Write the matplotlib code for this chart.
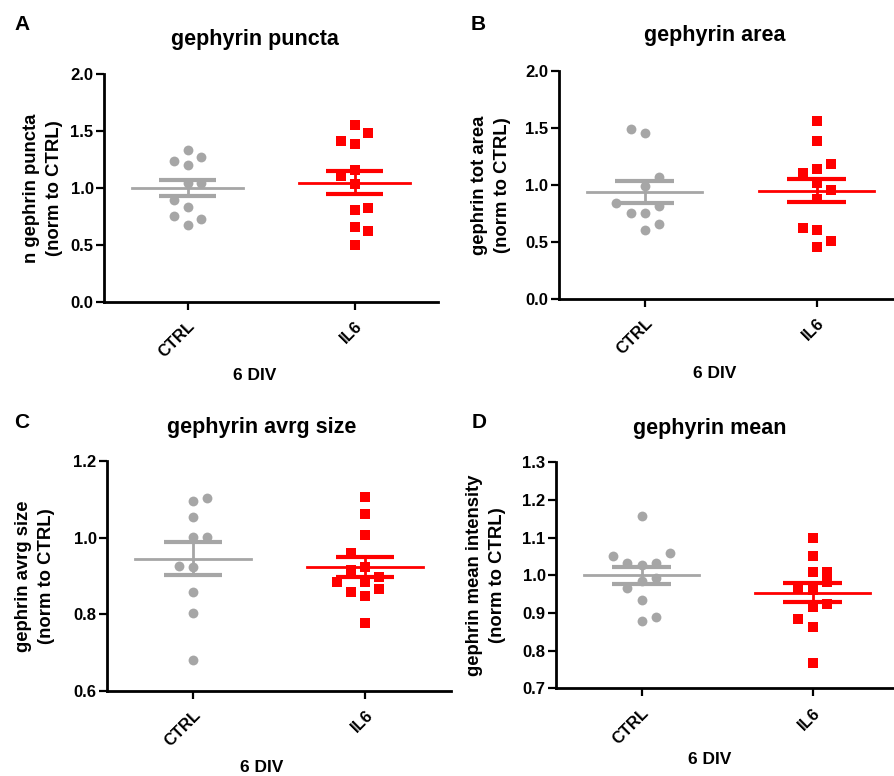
import matplotlib
matplotlib.use('Agg')
import matplotlib.pyplot as plt
import numpy as np

plt.rcParams['font.family'] = ['Liberation Sans', 'DejaVu Sans']
plt.rcParams['font.weight'] = 'bold'

# === Values ===
groups = ['CTRL', 'IL6']

# A - gephyrin puncta
a_ctrl = [1.33, 1.24, 1.27, 1.20, 1.045, 1.045, 0.89, 0.83, 0.75, 0.73, 0.67]
a_ctrl_slot = [0, -1, 1, 0, 0, 1, -1, 0, -1, 1, 0]
a_il6 = [1.55, 1.48, 1.41, 1.385, 1.157, 1.107, 1.034, 0.805, 0.82, 0.66, 0.624, 0.50]
a_il6_slot = [0, 1, -1, 0, 0, -1, 0, 0, 1, 0, 1, 0]
a_mean = [1.00, 1.045]
a_sem = [0.073, 0.103]

# B - gephyrin area
b_ctrl = [1.49, 1.45, 1.066, 0.99, 0.844, 0.815, 0.75, 0.75, 0.654, 0.604]
b_ctrl_slot = [-1, 0, 1, 0, -2, 1, -1, 0, 1, 0]
b_il6 = [1.56, 1.384, 1.182, 1.136, 1.107, 1.013, 0.955, 0.873, 0.625, 0.604, 0.508, 0.458]
b_il6_slot = [0, 0, 1, 0, -1, 0, 1, 0, -1, 0, 1, 0]
b_mean = [0.94, 0.949]
b_sem = [0.095, 0.099]

# C - gephyrin avrg size
c_ctrl = [1.096, 1.104, 1.053, 1.003, 1.003, 0.927, 0.924, 0.859, 0.804, 0.681]
c_ctrl_slot = [0, 1, 0, 0, 1, -1, 0, 0, 0, 0]
c_il6 = [1.107, 1.062, 1.007, 0.961, 0.924, 0.916, 0.898, 0.885, 0.885, 0.865, 0.859, 0.849, 0.777]
c_il6_slot = [0, 0, 0, -1, 0, -1, 1, -2, 0, 1, -1, 0, 0]
c_mean = [0.945, 0.923]
c_sem = [0.043, 0.026]

# D - gephyrin mean
d_ctrl = [1.158, 1.058, 1.051, 1.032, 1.032, 1.027, 0.994, 0.985, 0.965, 0.935, 0.889, 0.879]
d_ctrl_slot = [0, 2, -2, -1, 1, 0, 1, 0, -1, 0, 1, 0]
d_il6 = [1.100, 1.052, 1.010, 1.010, 0.983, 0.965, 0.961, 0.925, 0.917, 0.884, 0.862, 0.766]
d_il6_slot = [0, 0, 0, 1, 1, -1, 0, 1, 0, -1, 0, 0]
d_mean = [1.000, 0.954]
d_sem = [0.022, 0.0255]

gray = '#a6a6a6'
red = '#ff0000'
W, H = 894, 776

fig = plt.figure(figsize=(W / 100, H / 100), dpi=100)


def panel(rect, ctrl, ctrl_slot, il6, il6_slot, mean, sem, ylim, yticks, ylabel, ylabel_x):
    l, t, r, b = rect
    ax = fig.add_axes([l / W, 1 - b / H, (r - l) / W, (b - t) / H])
    ax.set_xlim(-0.5, 1.5)
    ax.set_ylim(*ylim)
    step = 0.082
    ax.scatter(np.array(ctrl_slot) * step, ctrl, s=50, marker='o', color=gray,
               linewidths=0, zorder=2, clip_on=False)
    ax.scatter(1 + np.array(il6_slot) * step, il6, s=47, marker='s', color=red,
               linewidths=0, zorder=2, clip_on=False)
    for i, c in enumerate([gray, red]):
        ax.plot([i - 0.335, i + 0.335], [mean[i], mean[i]], color=c, lw=2, zorder=3)
        for v in (mean[i] - sem[i], mean[i] + sem[i]):
            ax.plot([i - 0.17, i + 0.17], [v, v], color=c, lw=3, zorder=3,
                    solid_capstyle='butt')
        ax.plot([i, i], [mean[i] - sem[i], mean[i] + sem[i]], color=c, lw=2, zorder=3)
    ax.spines['top'].set_visible(False)
    ax.spines['right'].set_visible(False)
    ax.spines['left'].set_linewidth(2)
    ax.spines['bottom'].set_linewidth(2)
    ax.set_yticks(yticks)
    ax.set_yticklabels([f'{v:.1f}' for v in yticks])
    ax.set_xticks([0, 1])
    ax.set_xticklabels(groups, rotation=45, ha='right', rotation_mode='anchor')
    ax.tick_params(width=1.6, length=6, labelsize=12, pad=1.5)
    ax.tick_params(axis='x', pad=6)
    fig.text(ylabel_x / W, 1 - (t + b) / 2 / H, ylabel, rotation=90, ha='center',
             va='center', fontsize=13.3, fontweight='bold', linespacing=1.5)
    ax.patch.set_alpha(0)
    return ax


panel((104, 74, 438, 301.7), a_ctrl, a_ctrl_slot, a_il6, a_il6_slot, a_mean, a_sem,
      (0, 2.0), [0.0, 0.5, 1.0, 1.5, 2.0], 'n gephrin puncta\n(norm to CTRL)', 43)
panel((558.7, 70.7, 902.7, 299), b_ctrl, b_ctrl_slot, b_il6, b_il6_slot, b_mean, b_sem,
      (0, 2.0), [0.0, 0.5, 1.0, 1.5, 2.0], 'gephrin tot area\n(norm to CTRL)', 491)
panel((107, 461, 451, 691), c_ctrl, c_ctrl_slot, c_il6, c_il6_slot, c_mean, c_sem,
      (0.6, 1.2), [0.6, 0.8, 1.0, 1.2], 'gephrin avrg size\n(norm to CTRL)', 35)
panel((556, 462.3, 898, 688.3), d_ctrl, d_ctrl_slot, d_il6, d_il6_slot, d_mean, d_sem,
      (0.7, 1.3), [0.7, 0.8, 0.9, 1.0, 1.1, 1.2, 1.3], 'gephrin mean intensity\n(norm to CTRL)', 486)

# === Titles, x labels and panel letters ===
titles = ['gephyrin puncta', 'gephyrin area', 'gephyrin avrg size', 'gephyrin mean']
title_xy = [(255, 40), (715, 35), (262, 427), (710, 428)]
xlabel_xy = [(255, 375), (715, 373), (262, 768), (710, 760)]
letters = ['A', 'B', 'C', 'D']
letter_xy = [(22, 25), (478, 25), (22, 423), (479, 423)]

for txt, (x, y) in zip(titles, title_xy):
    fig.text(x / W, 1 - y / H, txt, ha='center', va='center', fontsize=15.5, fontweight='bold')
for (x, y) in xlabel_xy:
    fig.text(x / W, 1 - y / H, '6 DIV', ha='center', va='center', fontsize=12.5, fontweight='bold')
for txt, (x, y) in zip(letters, letter_xy):
    fig.text(x / W, 1 - y / H, txt, ha='center', va='center', fontsize=15, fontweight='bold')

fig.savefig('out.png', dpi=100)
